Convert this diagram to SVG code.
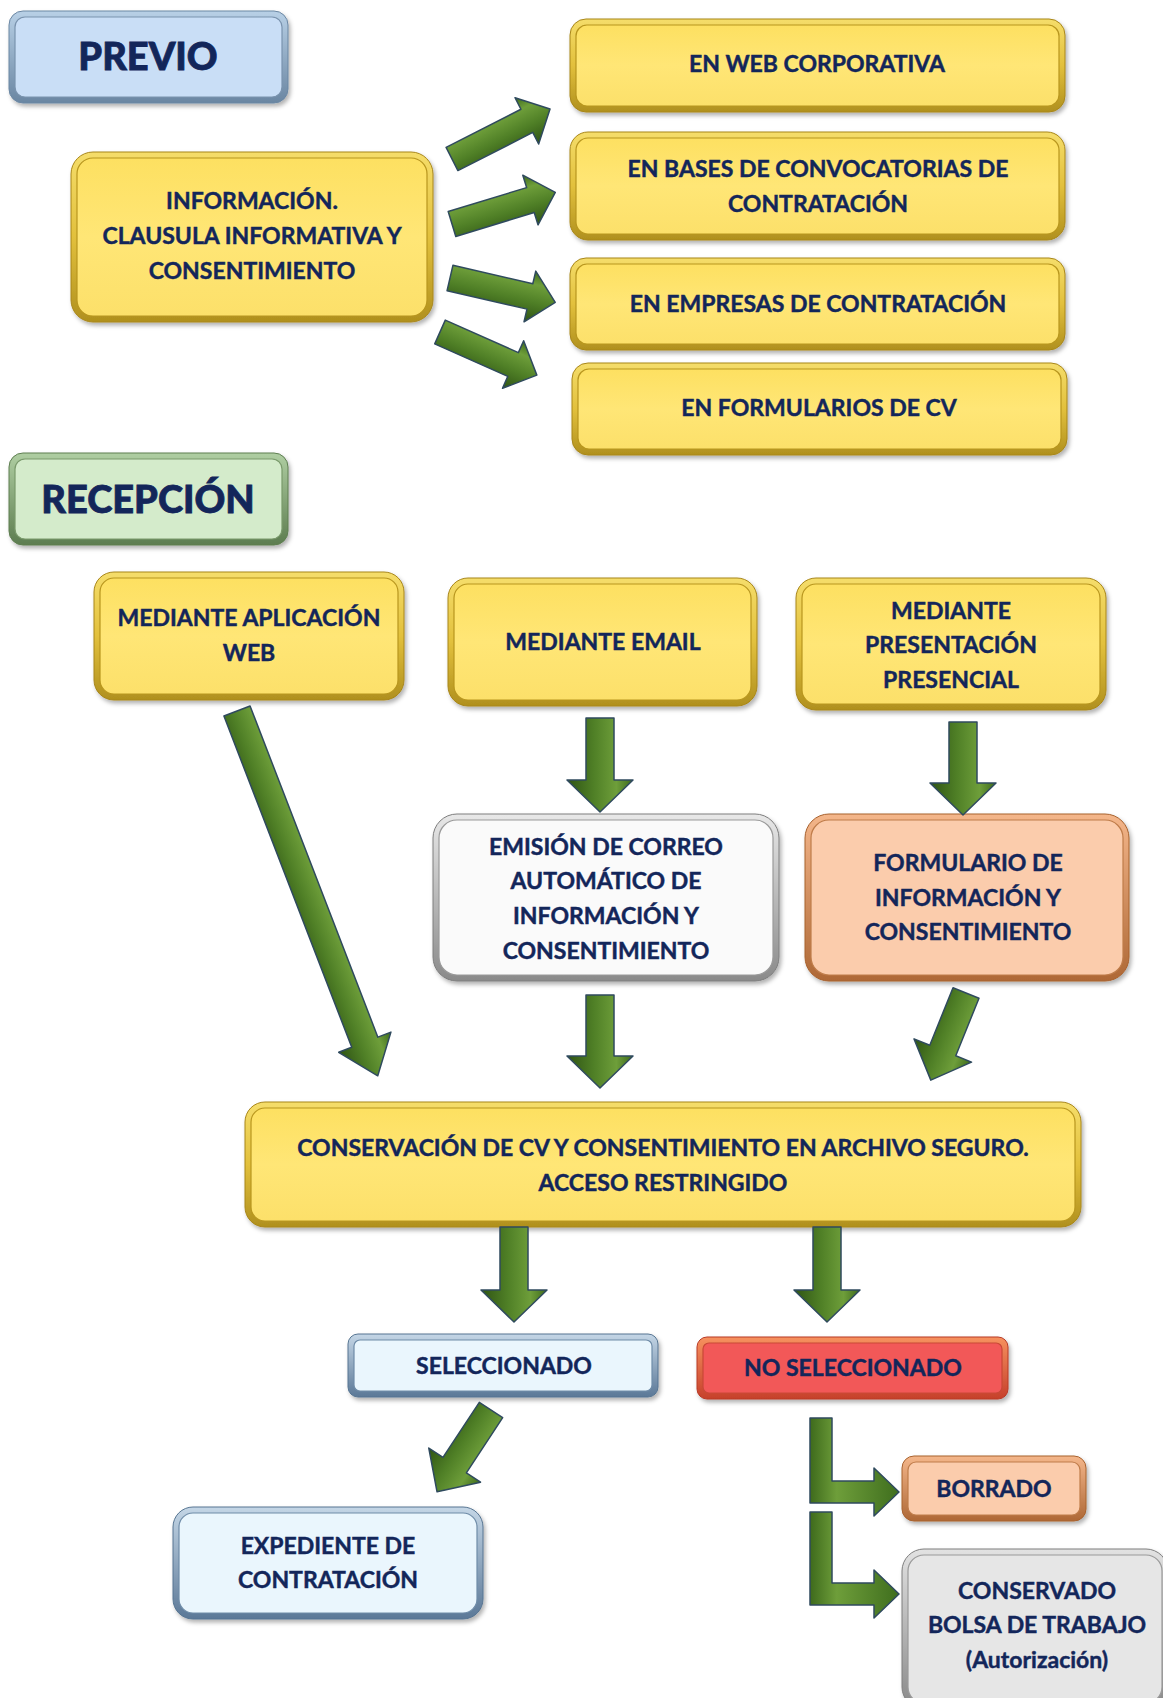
<svg xmlns="http://www.w3.org/2000/svg" width="1163" height="1698" viewBox="0 0 1163 1698">
<style>
  text { font-family: "Lato", "Open Sans", "Liberation Sans", sans-serif; font-weight: 700; fill: #13265A; stroke: #13265A; stroke-width: 0.45; text-anchor: middle; }
  .t { font-size: 23px; }
  .h { font-size: 38px; font-weight: 900; stroke-width: 0.8; }
  .frame { filter: url(#shadow); stroke-width: 1; }
  .inner { stroke-width: 1.2; }
  .arrow { fill: url(#gArrow); stroke: #2F4A5E; stroke-width: 1.5; stroke-linejoin: round; }
  .fY { fill: url(#frY); stroke: #A8861A; } .iY { fill: url(#inY); stroke: #B8961E; }
  .fB { fill: url(#frB); stroke: #6B87A3; } .iB { fill: #C9DEF6; stroke: #7A93AE; }
  .fG { fill: url(#frG); stroke: #5E7E51; } .iG { fill: #D4EBCB; stroke: #7A9A6C; }
  .fW { fill: url(#frW); stroke: #7E7E7E; } .iW { fill: #FAFAFA; stroke: #9A9A9A; }
  .fP { fill: url(#frP); stroke: #A8622F; } .iP { fill: #FBCCAC; stroke: #BF7C4A; }
  .fL { fill: url(#frL); stroke: #577592; } .iL { fill: #EAF6FD; stroke: #6F8CA8; }
  .fR { fill: url(#frR); stroke: #B83A26; } .iR { fill: #F25858; stroke: #C94836; }
  .fS { fill: url(#frS); stroke: #7E7E7E; } .iS { fill: #E6E6E6; stroke: #9A9A9A; }
</style>
<defs>
  <filter id="shadow" x="-10%" y="-10%" width="125%" height="130%">
    <feDropShadow dx="2" dy="3" stdDeviation="2" flood-color="#000" flood-opacity="0.3"/>
  </filter>
  <linearGradient id="frY" x1="0" y1="0" x2="0" y2="1"><stop offset="0" stop-color="#F5DD6A"/><stop offset="0.5" stop-color="#E2C03C"/><stop offset="1" stop-color="#B0901E"/></linearGradient>
  <linearGradient id="inY" x1="0" y1="0" x2="0" y2="1"><stop offset="0" stop-color="#FDE061"/><stop offset="0.5" stop-color="#FFE676"/><stop offset="1" stop-color="#FCE06A"/></linearGradient>
  <linearGradient id="frB" x1="0" y1="0" x2="0" y2="1"><stop offset="0" stop-color="#B8D0E6"/><stop offset="1" stop-color="#6A86A2"/></linearGradient>
  <linearGradient id="frG" x1="0" y1="0" x2="0" y2="1"><stop offset="0" stop-color="#AFCEA2"/><stop offset="1" stop-color="#5D7D50"/></linearGradient>
  <linearGradient id="frW" x1="0" y1="0" x2="0" y2="1"><stop offset="0" stop-color="#E8E8E8"/><stop offset="1" stop-color="#8A8A8A"/></linearGradient>
  <linearGradient id="frP" x1="0" y1="0" x2="0" y2="1"><stop offset="0" stop-color="#F4B68A"/><stop offset="1" stop-color="#AE6836"/></linearGradient>
  <linearGradient id="frL" x1="0" y1="0" x2="0" y2="1"><stop offset="0" stop-color="#C4D6E6"/><stop offset="1" stop-color="#5B7897"/></linearGradient>
  <linearGradient id="frR" x1="0" y1="0" x2="0" y2="1"><stop offset="0" stop-color="#F6915E"/><stop offset="1" stop-color="#C6402B"/></linearGradient>
  <linearGradient id="frS" x1="0" y1="0" x2="0" y2="1"><stop offset="0" stop-color="#E2E2E2"/><stop offset="1" stop-color="#888888"/></linearGradient>
  <linearGradient id="gArrow" x1="0" y1="0" x2="0" y2="1">
    <stop offset="0" stop-color="#3E6A1C"/><stop offset="0.25" stop-color="#6E9E3A"/><stop offset="0.6" stop-color="#4F7F26"/><stop offset="1" stop-color="#2F5414"/>
  </linearGradient>
  <linearGradient id="gArrowH" x1="0" y1="0" x2="1" y2="0">
    <stop offset="0" stop-color="#3E6A1C"/><stop offset="0.3" stop-color="#6E9E3A"/><stop offset="1" stop-color="#3F6E1E"/>
  </linearGradient>
</defs>

<g id="nodes">
  <g id="n-previo">
    <rect class="frame fB" x="9" y="11" width="279" height="92" rx="14"/>
    <rect class="inner iB" x="15" y="17" width="267" height="80" rx="10"/>
    <text class="h" x="148" y="70">PREVIO</text>
  </g>
  <g id="n-informacion">
    <rect class="frame fY" x="71" y="152" width="362" height="170" rx="22"/>
    <rect class="inner iY" x="77" y="158" width="350" height="158" rx="16"/>
    <text class="t" x="252" y="209">INFORMACIÓN.</text>
    <text class="t" x="252" y="244">CLAUSULA INFORMATIVA Y</text>
    <text class="t" x="252" y="279">CONSENTIMIENTO</text>
  </g>
  <g id="n-web-corporativa">
    <rect class="frame fY" x="570" y="19" width="495" height="93" rx="16"/>
    <rect class="inner iY" x="576" y="25" width="483" height="81" rx="11"/>
    <text class="t" x="817" y="72">EN WEB CORPORATIVA</text>
  </g>
  <g id="n-bases">
    <rect class="frame fY" x="570" y="132" width="495" height="108" rx="18"/>
    <rect class="inner iY" x="576" y="138" width="483" height="96" rx="12"/>
    <text class="t" x="818" y="177">EN BASES DE CONVOCATORIAS DE</text>
    <text class="t" x="818" y="212">CONTRATACIÓN</text>
  </g>
  <g id="n-empresas">
    <rect class="frame fY" x="570" y="258" width="495" height="92" rx="16"/>
    <rect class="inner iY" x="576" y="264" width="483" height="80" rx="11"/>
    <text class="t" x="818" y="312">EN EMPRESAS DE CONTRATACIÓN</text>
  </g>
  <g id="n-formularios-cv">
    <rect class="frame fY" x="572" y="363" width="495" height="92" rx="16"/>
    <rect class="inner iY" x="578" y="369" width="483" height="80" rx="11"/>
    <text class="t" x="819" y="416">EN FORMULARIOS DE CV</text>
  </g>
  <g id="n-recepcion">
    <rect class="frame fG" x="9" y="453" width="279" height="92" rx="14"/>
    <rect class="inner iG" x="15" y="459" width="267" height="80" rx="10"/>
    <text class="h" x="148" y="513">RECEPCIÓN</text>
  </g>
  <g id="n-aplicacion-web">
    <rect class="frame fY" x="94" y="572" width="310" height="128" rx="20"/>
    <rect class="inner iY" x="100" y="578" width="298" height="116" rx="14"/>
    <text class="t" x="249" y="626">MEDIANTE APLICACIÓN</text>
    <text class="t" x="249" y="661">WEB</text>
  </g>
  <g id="n-email">
    <rect class="frame fY" x="448" y="578" width="309" height="128" rx="20"/>
    <rect class="inner iY" x="454" y="584" width="297" height="116" rx="14"/>
    <text class="t" x="603" y="650">MEDIANTE EMAIL</text>
  </g>
  <g id="n-presencial">
    <rect class="frame fY" x="796" y="578" width="310" height="132" rx="20"/>
    <rect class="inner iY" x="802" y="584" width="298" height="120" rx="14"/>
    <text class="t" x="951" y="619">MEDIANTE</text>
    <text class="t" x="951" y="653">PRESENTACIÓN</text>
    <text class="t" x="951" y="688">PRESENCIAL</text>
  </g>
  <g id="n-emision">
    <rect class="frame fW" x="433" y="814" width="346" height="167" rx="24"/>
    <rect class="inner iW" x="439" y="820" width="334" height="155" rx="18"/>
    <text class="t" x="606" y="855">EMISIÓN DE CORREO</text>
    <text class="t" x="606" y="889">AUTOMÁTICO DE</text>
    <text class="t" x="606" y="924">INFORMACIÓN Y</text>
    <text class="t" x="606" y="959">CONSENTIMIENTO</text>
  </g>
  <g id="n-formulario">
    <rect class="frame fP" x="805" y="814" width="324" height="167" rx="24"/>
    <rect class="inner iP" x="811" y="820" width="312" height="155" rx="18"/>
    <text class="t" x="968" y="871">FORMULARIO DE</text>
    <text class="t" x="968" y="906">INFORMACIÓN Y</text>
    <text class="t" x="968" y="940">CONSENTIMIENTO</text>
  </g>
  <g id="n-conservacion">
    <rect class="frame fY" x="245" y="1102" width="836" height="125" rx="20"/>
    <rect class="inner iY" x="251" y="1108" width="824" height="113" rx="14"/>
    <text class="t" x="663" y="1156">CONSERVACIÓN DE CV Y CONSENTIMIENTO EN ARCHIVO SEGURO.</text>
    <text class="t" x="663" y="1191">ACCESO RESTRINGIDO</text>
  </g>
  <g id="n-seleccionado">
    <rect class="frame fL" x="348" y="1334" width="310" height="63" rx="10"/>
    <rect class="inner iL" x="354" y="1340" width="298" height="51" rx="6"/>
    <text class="t" x="504" y="1374">SELECCIONADO</text>
  </g>
  <g id="n-no-seleccionado">
    <rect class="frame fR" x="697" y="1337" width="311" height="62" rx="10"/>
    <rect class="inner iR" x="703" y="1343" width="299" height="50" rx="6"/>
    <text class="t" x="853" y="1376">NO SELECCIONADO</text>
  </g>
  <g id="n-expediente">
    <rect class="frame fL" x="173" y="1507" width="310" height="112" rx="20"/>
    <rect class="inner iL" x="179" y="1513" width="298" height="100" rx="14"/>
    <text class="t" x="328" y="1554">EXPEDIENTE DE</text>
    <text class="t" x="328" y="1588">CONTRATACIÓN</text>
  </g>
  <g id="n-borrado">
    <rect class="frame fP" x="902" y="1456" width="184" height="65" rx="12"/>
    <rect class="inner iP" x="908" y="1462" width="172" height="53" rx="8"/>
    <text class="t" x="994" y="1497">BORRADO</text>
  </g>
  <g id="n-conservado">
    <rect class="frame fS" x="902" y="1549" width="266" height="160" rx="22"/>
    <rect class="inner iS" x="908" y="1555" width="254" height="148" rx="16"/>
    <text class="t" x="1037" y="1599">CONSERVADO</text>
    <text class="t" x="1037" y="1633">BOLSA DE TRABAJO</text>
    <text class="t" x="1037" y="1668">(Autorización)</text>
  </g>
</g>

<g id="connectors">
  <path class="arrow" transform="translate(452,159) rotate(-27)" d="M0,-13 L84,-13 L84,-26 L110,0 L84,26 L84,13 L0,13 Z"/>
  <path class="arrow" transform="translate(452,224) rotate(-17)" d="M0,-13 L82,-13 L82,-26 L108,0 L82,26 L82,13 L0,13 Z"/>
  <path class="arrow" transform="translate(450,278) rotate(13)" d="M0,-13 L82,-13 L82,-26 L108,0 L82,26 L82,13 L0,13 Z"/>
  <path class="arrow" transform="translate(440,332) rotate(24)" d="M0,-13 L80,-13 L80,-26 L106,0 L80,26 L80,13 L0,13 Z"/>
  <path class="arrow" transform="translate(237,711) rotate(68.9)" d="M0,-14 L355,-14 L355,-28 L391,0 L355,28 L355,14 L0,14 Z"/>
  <path class="arrow" transform="translate(600,718) rotate(90)" d="M0,-14 L62,-14 L62,-33 L94,0 L62,33 L62,14 L0,14 Z"/>
  <path class="arrow" transform="translate(963,722) rotate(90)" d="M0,-14 L61,-14 L61,-33 L93,0 L61,33 L61,14 L0,14 Z"/>
  <path class="arrow" transform="translate(600,995) rotate(90)" d="M0,-14 L61,-14 L61,-33 L93,0 L61,33 L61,14 L0,14 Z"/>
  <path class="arrow" transform="translate(966,993) rotate(112)" d="M0,-14 L62,-14 L62,-31 L94,0 L62,31 L62,14 L0,14 Z"/>
  <path class="arrow" transform="translate(514,1227) rotate(90)" d="M0,-14 L63,-14 L63,-33 L95,0 L63,33 L63,14 L0,14 Z"/>
  <path class="arrow" transform="translate(827,1227) rotate(90)" d="M0,-14 L63,-14 L63,-33 L95,0 L63,33 L63,14 L0,14 Z"/>
  <path class="arrow" transform="translate(491,1410) rotate(123.4)" d="M0,-14 L66,-14 L66,-31 L98,0 L66,31 L66,14 L0,14 Z"/>
  <path class="arrow" style="fill:url(#gArrowH)" d="M810,1418 L832,1418 L832,1481 L874,1481 L874,1468 L899,1492 L874,1516 L874,1503 L810,1503 Z"/>
  <path class="arrow" style="fill:url(#gArrowH)" d="M810,1512 L832,1512 L832,1583 L874,1583 L874,1570 L899,1594 L874,1618 L874,1605 L810,1605 Z"/>
</g>
</svg>
